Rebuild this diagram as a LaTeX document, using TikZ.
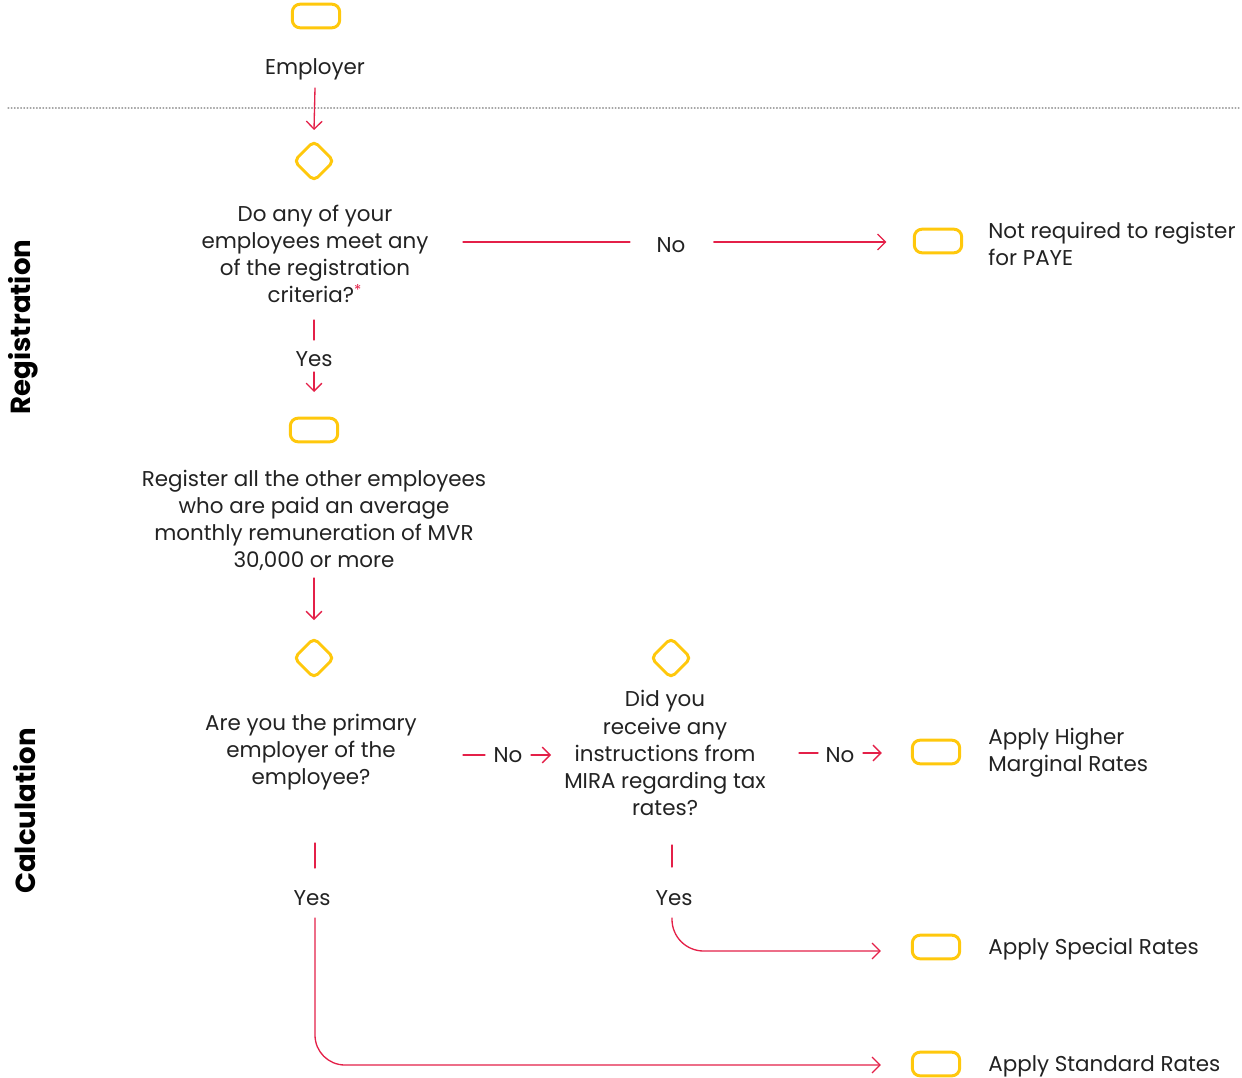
\documentclass[tikz,border=0pt]{standalone}
\usepackage{fontspec}
\setmainfont{Poppins}
\usetikzlibrary{arrows.meta,calc}
\definecolor{flowred}{RGB}{228,32,72}
\definecolor{boxgold}{RGB}{255,200,12}
\definecolor{inkgray}{RGB}{34,34,34}

\begin{document}
\begin{tikzpicture}[x=0.02cm, y=-0.02cm, >={Straight Barb[length=4.5pt,width=9pt]},
  line cap=round, line join=round,
  term/.style={draw=boxgold, line width=1.7pt, rounded corners=4.5pt,
               minimum width=27pt, minimum height=13.5pt, inner sep=0pt},
  dec/.style={draw=boxgold, line width=1.7pt, rounded corners=3pt, rotate=45,
              minimum size=16pt, inner sep=0pt},
  txt/.style={text=inkgray, font=\fontsize{12.2}{15.4}\selectfont, align=center, inner sep=0pt},
  lbl/.style={txt, align=left, anchor=west},
  flow/.style={draw=flowred, line width=0.75pt},
  side/.style={font=\bfseries\fontsize{15.7}{17}\selectfont, rotate=90, inner sep=0pt}]

  \useasboundingbox (0,0) rectangle (1242,1078);

  % --- section titles and divider ---
  \node[side] (regtitle) at (23,327) {Registration};
  \node[side] (calctitle) at (25,811) {Calculation};
  \draw[gray!70, line width=0.6pt, dash pattern=on 0.5pt off 1.3pt] (8,108) -- (1240,108);

  % --- registration part ---
  \node[term] (start) at (316,16) {};
  \node[txt] (emp) at (315,69) {Employer};
  \node[dec] (d1) at (314,161) {};
  \node[txt] (q1) at (315,254) {Do any of your\\employees meet any\\of the registration\\criteria?\textcolor{flowred}{\textsuperscript{*}}};
  \node[txt] (no1) at (671,245) {No};
  \node[term] (t1) at (938,241) {};
  \node[lbl] (l1) at (988,244) {Not required to register\\for PAYE};
  \node[txt] (yes1) at (314,359) {Yes};
  \node[term] (t2) at (314,430) {};
  \node[txt] (reg) at (314,520) {Register all the other employees\\who are paid an average\\monthly remuneration of MVR\\30,000 or more};

  \draw[flow,->] (emp |- 0,88) -- (d1 |- 0,130);
  \draw[flow, shorten >=15pt] (463,242) -- (no1.west |- 0,242);
  \draw[flow,->, shorten <=16pt, shorten >=15pt] (no1.east |- 0,242) -- (t1.west |- 0,242);
  \draw[flow] (yes1 |- 0,320) -- (yes1 |- 0,340);
  \draw[flow,->] (yes1 |- 0,372) -- (yes1 |- 0,392);
  \draw[flow,->] (reg |- 0,578) -- (reg |- 0,620);

  % --- calculation part ---
  \node[dec] (d2) at (314,658) {};
  \node[txt] (q2) at (311,752) {Are you the primary\\employer of the\\employee?};
  \node[txt] (no2) at (508,755) {No};
  \node[dec] (d3) at (671,658) {};
  \node[txt] (q3) at (665,753) {Did you\\receive any\\instructions from\\MIRA regarding tax\\rates?};
  \node[txt] (no3) at (840,755) {No};
  \node[term] (t3) at (936,752) {};
  \node[lbl] (l3) at (988,753) {Apply Higher\\Marginal Rates};
  \node[txt] (yes3) at (674,898) {Yes};
  \node[term] (t4) at (936,947) {};
  \node[lbl] (l4) at (988,949) {Apply Special Rates};
  \node[txt] (yes2) at (312,898) {Yes};
  \node[term] (t5) at (936,1064) {};
  \node[lbl] (l5) at (988,1066) {Apply Standard Rates};

  \draw[flow] (463,755) -- (485,755);
  \draw[flow,->] (531,755) -- (551,755);
  \draw[flow] (799,753) -- (818,753);
  \draw[flow,->, shorten >=16.5pt] (863,753) -- (t3.west |- 0,753);
  \draw[flow] (672,845) -- (672,867);
  \draw[flow,->, rounded corners=18pt, shorten >=17pt] (672,918) |- (t4.west |- 0,951);
  \draw[flow] (315,843) -- (315,868);
  \draw[flow,->, rounded corners=17pt, shorten >=17pt] (315,918) |- (t5.west |- 0,1065);
\end{tikzpicture}
\end{document}
